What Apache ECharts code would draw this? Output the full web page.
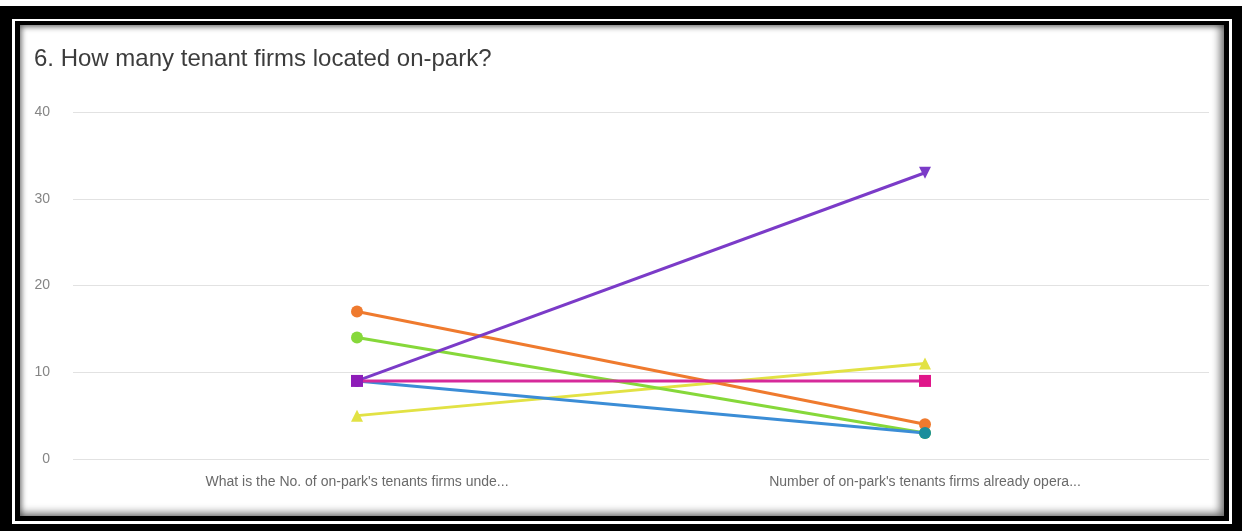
<!DOCTYPE html>
<html>
<head>
<meta charset="utf-8">
<script src="https://cdn.jsdelivr.net/npm/echarts@6/dist/echarts.min.js"></script>
<style>
  html, body { margin: 0; padding: 0; background: #fff; }
  body { width: 1242px; height: 531px; position: relative; overflow: hidden; }
  .frame { position: absolute; }
  #outer { left: 0; top: 6px; width: 1242px; height: 525px; background: #000; }
  #rule { left: 12px; top: 19px; width: 1220px; height: 505px; background: #fff; }
  #inner { left: 15px; top: 21px; width: 1214px; height: 500px; background: #000; }
  #panel { left: 20px; top: 25px; width: 1204px; height: 491px; background: #fff;
           box-shadow: inset -3px -2px 9px 1px rgba(0,0,0,0.55), inset 2px 2px 5px rgba(0,0,0,0.35); }
  #chart { position: absolute; left: 0; top: 0; width: 1242px; height: 531px; }
</style>
</head>
<body>
<div class="frame" id="outer"></div>
<div class="frame" id="rule"></div>
<div class="frame" id="inner"></div>
<div class="frame" id="panel"></div>
<div id="chart"></div>
<script>
// Question categories on the x axis
const categories = [
  "What is the No. of on-park's tenants firms unde...",
  "Number of on-park's tenants firms already opera..."
];
// Responses, one line per park
const parkA = [9, 3];    // blue
const parkB = [9, 33];   // violet
const parkC = [17, 4];   // orange
const parkD = [14, 3];   // green
const parkE = [5, 11];   // yellow
const parkF = [9, 9];    // magenta
const yTicks = [0, 10, 20, 30, 40];

function line(data, color, symbol, opts) {
  opts = opts || {};
  return {
    type: 'line',
    data: data,
    symbol: symbol,
    symbolSize: opts.size || 12,
    symbolRotate: opts.rotate || 0,
    showSymbol: true,
    lineStyle: { color: opts.lineColor || color, width: 3 },
    itemStyle: { color: color },
    emphasis: { disabled: true },
    z: opts.z || 2
  };
}

// magenta line starts on a violet square
const parkFData = parkF.map((v, i) => i === 0 ? { value: v, itemStyle: { color: '#8e1cb8' } } : v);

const chart = echarts.init(document.getElementById('chart'), null, { renderer: 'canvas' });
chart.setOption({
  animation: false,
  backgroundColor: 'transparent',
  title: {
    text: '6. How many tenant firms located on-park?',
    left: 29, top: 42,
    textStyle: { fontFamily: 'Liberation Sans, Arial, sans-serif', fontSize: 24, fontWeight: 'normal', color: '#3c3c3c' }
  },
  grid: { left: 73, right: 33, top: 112, bottom: 72, containLabel: false },
  xAxis: {
    type: 'category',
    data: categories,
    boundaryGap: true,
    axisLine: { show: false },
    axisTick: { show: false },
    axisLabel: { color: '#6a6a6a', fontSize: 14, fontFamily: 'Liberation Sans, Arial, sans-serif', margin: 16, interval: 0 }
  },
  yAxis: {
    type: 'value',
    min: yTicks[0], max: yTicks[yTicks.length - 1], interval: 10,
    axisLine: { show: false },
    axisTick: { show: false },
    axisLabel: { color: '#858585', fontSize: 14, fontFamily: 'Liberation Sans, Arial, sans-serif', margin: 23 },
    splitLine: { lineStyle: { color: '#e2e2e2', width: 1 } }
  },
  series: [
    line(parkE, '#e2e244', 'triangle', { z: 2 }),
    line(parkD, '#86d83a', 'circle', { z: 3 }),
    line(parkA, '#1b8e9c', 'circle', { lineColor: '#3b8dd6', z: 4 }),
    line(parkC, '#ef7a2e', 'circle', { z: 3 }),
    line(parkB, '#7b3bc8', 'triangle', { rotate: 180, z: 5 }),
    Object.assign(line(parkFData, '#e0168a', 'rect', { size: 12, z: 6 }), { lineStyle: { color: '#d62a9a', width: 3 } })
  ]
});
</script>
</body>
</html>
